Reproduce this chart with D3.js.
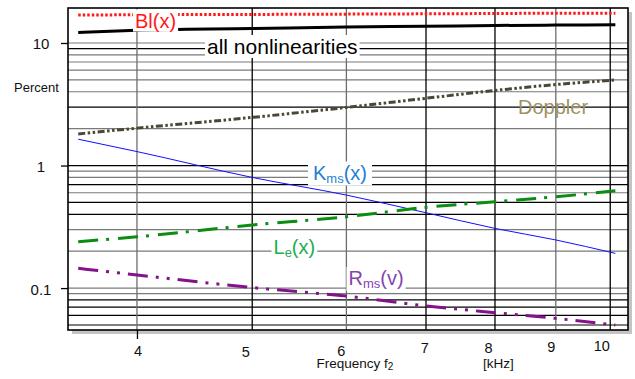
<!DOCTYPE html>
<html>
<head>
<meta charset="utf-8">
<script src="https://cdn.jsdelivr.net/npm/d3@7"></script>
<style>
  body { margin: 0; background: #fff; }
  svg { display: block; font-family: "Liberation Sans", Arial, sans-serif; }
</style>
</head>
<body>
<svg id="chart" width="635" height="379"></svg>
<script>
// frequency points (kHz)
var freqs = [3.57, 4, 5, 6, 7, 8, 9, 10.1];

// distortion in percent for each nonlinearity
var blX = [16.9, 17.0, 17.1, 17.2, 17.3, 17.4, 17.5, 17.5];
var allNonlin = [12.2, 12.7, 13.1, 13.5, 13.7, 13.9, 14.0, 14.1];
var doppler = [1.81, 2.02, 2.47, 2.98, 3.54, 4.1, 4.58, 4.99];
var kmsX = [1.64, 1.30, 0.80, 0.574, 0.412, 0.307, 0.247, 0.192];
var leX = [0.239, 0.262, 0.327, 0.382, 0.456, 0.507, 0.556, 0.622];
var rmsV = [0.145, 0.128, 0.101, 0.086, 0.0716, 0.063, 0.0566, 0.0499];

var xTicks = [4, 5, 6, 7, 8, 9, 10];
var yTicks = [0.1, 1, 10];
var yGrid = [0.05, 0.06, 0.07, 0.08, 0.09, 0.1, 0.2, 0.3, 0.4, 0.5, 0.6, 0.7, 0.8, 0.9,
             1, 2, 3, 4, 5, 6, 7, 8, 9, 10];

var svg = d3.select("#chart");
var plot = { left: 68, right: 628, top: 8, bottom: 330 };

var x = d3.scaleLog().domain([3.5, 10.35]).range([plot.left, plot.right]);
var y = d3.scaleLog().domain([0.0455, 19.3]).range([plot.bottom, plot.top]);

/* drop shadow + plot background */
svg.append("rect")
    .attr("x", plot.left + 4).attr("y", plot.top + 4)
    .attr("width", plot.right - plot.left).attr("height", plot.bottom - plot.top)
    .attr("fill", "#c4c4c4");
svg.append("rect")
    .attr("x", plot.left).attr("y", plot.top)
    .attr("width", plot.right - plot.left).attr("height", plot.bottom - plot.top)
    .attr("fill", "#fff");

/* grid: mix of grey and black rules */
var greyRows = [10, 8, 7, 6, 5, 4, 2, 0.9, 0.8, 0.6, 0.3, 0.2, 0.1, 0.09];
var greyCols = [4, 6, 9];
var grid = svg.append("g");
grid.selectAll(".h").data(yGrid).enter().append("line")
    .attr("x1", plot.left).attr("x2", plot.right)
    .attr("y1", function(d) { return y(d); })
    .attr("y2", function(d) { return y(d); })
    .attr("stroke", function(d) { return greyRows.indexOf(d) >= 0 ? "#7a7a7a" : "#000"; })
    .attr("stroke-width", 1.2);
grid.selectAll(".v").data(xTicks).enter().append("line")
    .attr("y1", plot.top).attr("y2", plot.bottom)
    .attr("x1", function(d) { return x(d); })
    .attr("x2", function(d) { return x(d); })
    .attr("stroke", function(d) { return greyCols.indexOf(d) >= 0 ? "#6e6e6e" : "#000"; })
    .attr("stroke-width", 1.3);

/* curves */
var series = [
    { values: blX, color: "#ff1a1a", width: 3, dash: "2.5,2" },
    { values: allNonlin, color: "#000", width: 3, dash: null },
    { values: doppler, color: "#4b4733", width: 3, dash: "7,2.5,2.5,2.5,2.5,2.5" },
    { values: kmsX, color: "#1010ff", width: 1, dash: null },
    { values: leX, color: "#0b8c12", width: 3, dash: "20,8,3,9" },
    { values: rmsV, color: "#84128a", width: 3, dash: "20,8,3,8,3,8" }
];

var line = d3.line()
    .x(function(d, i) { return x(freqs[i]); })
    .y(function(d) { return y(d); })
    .curve(d3.curveMonotoneX);

svg.append("g").selectAll("path").data(series).enter().append("path")
    .attr("d", function(s) { return line(s.values); })
    .attr("fill", "none")
    .attr("stroke", function(s) { return s.color; })
    .attr("stroke-width", function(s) { return s.width; })
    .attr("stroke-dasharray", function(s) { return s.dash; });

/* in-plot labels, most on a white patch */
var labels = [
    { main: "Bl(x)", x: 135, y: 27.5, color: "#ff1a1a", size: 20, box: true },
    { main: "all nonlinearities", x: 207, y: 54, color: "#000", size: 21, box: true },
    { main: "Doppler", x: 518, y: 114, color: "#9d9263", size: 20, box: false },
    { main: "K", sub: "ms", tail: "(x)", x: 313, y: 179.5, color: "#1f80d4", size: 20, box: true, pad: 5 },
    { main: "L", sub: "e", tail: "(x)", x: 273.5, y: 253.5, color: "#1fae4f", size: 20, box: true },
    { main: "R", sub: "ms", tail: "(v)", x: 348.5, y: 285, color: "#8445b0", size: 20, box: true }
];

labels.forEach(function(l) {
    var g = svg.append("g");
    var bg = g.append("rect").attr("fill", "#fff");
    var t = g.append("text")
        .attr("x", l.x).attr("y", l.y)
        .attr("fill", l.color)
        .style("font-size", l.size + "px")
        .text(l.main);
    if (l.sub) {
        t.append("tspan").attr("dy", 3).style("font-size", "13px").text(l.sub);
        t.append("tspan").attr("dy", -3).text(l.tail);
    }
    if (l.box) {
        var b = t.node().getBBox(), p = l.pad || 2;
        bg.attr("x", b.x - p).attr("y", b.y).attr("width", b.width + 2 * p).attr("height", b.height);
    } else {
        bg.remove();
    }
});

/* frame */
svg.append("rect")
    .attr("x", plot.left).attr("y", plot.top)
    .attr("width", plot.right - plot.left).attr("height", plot.bottom - plot.top)
    .attr("fill", "none").attr("stroke", "#000").attr("stroke-width", 1.6);

/* y axis */
var yAxis = svg.append("g")
    .attr("transform", "translate(" + plot.left + ",0)")
    .call(d3.axisLeft(y).tickValues(yTicks).tickSize(7).tickFormat(d3.format("~g")));
yAxis.select(".domain").remove();
yAxis.selectAll("line").attr("stroke", "#000").attr("stroke-width", 1.3);
yAxis.selectAll("text")
    .attr("x", -27).attr("dy", "0.4em")
    .attr("text-anchor", "middle")
    .attr("fill", "#111")
    .style("font-size", "15px")
    .style("font-family", "Liberation Sans, Arial, sans-serif");

/* x axis; labels sit slightly staggered under their grid lines */
var xNudge = { 4: [0.6, 355.5], 5: [-7, 356.5], 6: [-5.5, 355.5], 7: [-1.7, 353], 8: [-7, 353], 9: [-5, 352], 10: [-9, 351] };
var xAxis = svg.append("g")
    .attr("transform", "translate(0," + plot.bottom + ")")
    .call(d3.axisBottom(x).tickValues(xTicks).tickSize(9).tickFormat(d3.format("d")));
xAxis.select(".domain").remove();
xAxis.selectAll("line")
    .attr("stroke", "#000").attr("stroke-width", 1.3)
    .attr("opacity", function(d) { return d === 4 ? 1 : 0; });
xAxis.selectAll("text")
    .attr("x", function(d) { return xNudge[d][0]; })
    .attr("y", function(d) { return xNudge[d][1] - plot.bottom; })
    .attr("dy", 0)
    .attr("fill", "#111")
    .style("font-size", "14.5px")
    .style("font-family", "Liberation Sans, Arial, sans-serif");

/* axis titles */
svg.append("text")
    .attr("x", 14).attr("y", 91.5)
    .attr("fill", "#111")
    .style("font-size", "13px")
    .text("Percent");

var ft = svg.append("text")
    .attr("x", 316.5).attr("y", 367.5)
    .attr("fill", "#111")
    .style("font-size", "13.5px")
    .text("Frequency f");
ft.append("tspan").attr("dy", 2).style("font-size", "10px").text("2");

svg.append("text")
    .attr("x", 483).attr("y", 367.5)
    .attr("fill", "#111")
    .style("font-size", "13.5px")
    .text("[kHz]");
</script>
</body>
</html>
